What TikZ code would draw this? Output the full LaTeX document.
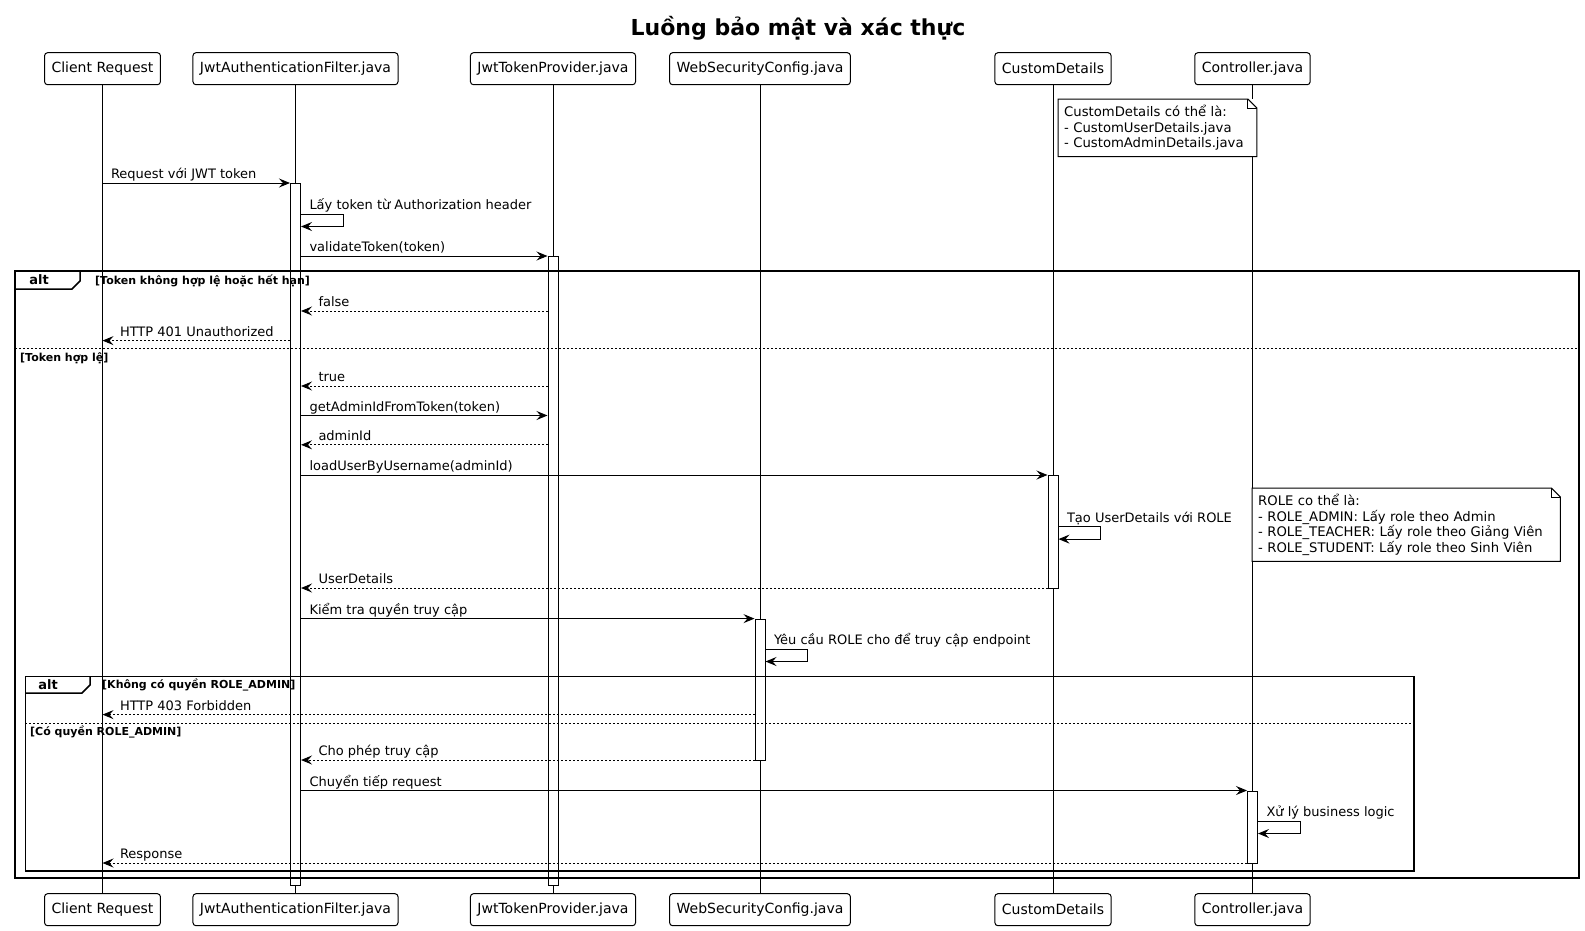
\documentclass[tikz,border=0pt]{standalone}
\usepackage{fontspec}
\setmainfont{DejaVu Sans}
\usetikzlibrary{arrows.meta}

\begin{document}
\begin{tikzpicture}[
x=1pt, y=-1pt,
actor/.style={draw, rounded corners=3pt, line width=1pt, fill=white, minimum height=32pt, inner xsep=7pt, font=\fontsize{14}{16}\selectfont},
life/.style={line width=1pt},
actbar/.style={draw, fill=white, line width=1pt, minimum width=10pt, inner sep=0pt, anchor=north},
msg/.style={line width=1pt, -{Stealth[length=11pt,width=9pt,inset=4pt]}},
reply/.style={msg, dash pattern=on 2pt off 2pt},
lbl/.style={font=\fontsize{13}{15}\selectfont, inner sep=0pt, anchor=base west},
lblS/.style={lbl, pos=0, xshift=8pt, yshift=4.5pt},
lblE/.style={lbl, pos=1, xshift=17pt, yshift=4.5pt},
grpframe/.style={line width=1.5pt},
grpsep/.style={line width=1pt, dash pattern=on 2pt off 2pt},
altlbl/.style={font=\bfseries\fontsize{13}{15}\selectfont, inner sep=0pt},
guard/.style={font=\bfseries\fontsize{11}{13}\selectfont, inner sep=0pt, anchor=west},
notebox/.style={fill=white, font=\fontsize{13.2}{15.5}\selectfont, align=left, anchor=north west, inner sep=6pt},
notefold/.style={line width=1pt}
]
\useasboundingbox (0,0) rectangle (1585,930);
\node[font=\bfseries\fontsize{22}{26}\selectfont] (title) at (798,28.3) {Luồng bảo mật và xác thực};

\foreach \nm/\x/\txt in {client/102.5/Client Request, filter/295.5/JwtAuthenticationFilter.java,
    provider/553/JwtTokenProvider.java, config/760/WebSecurityConfig.java,
    details/1053/CustomDetails, ctrl/1252.5/Controller.java} {
  \node[actor] (\nm) at (\x,68.7) {\txt};
  \node[actor] (\nm-b) at (\x,909.7) {\txt};
  \draw[life] (\nm.south) -- (\nm-b.north);
}

\node[actbar, minimum height=701.5pt] (aFilter) at (filter |- 0,183) {};
\node[actbar, minimum height=628.5pt] (aProv) at (provider |- 0,256) {};
\node[actbar, minimum height=112.5pt] (aDet) at (details |- 0,475) {};
\node[actbar, minimum height=141pt] (aConf) at (config |- 0,618.6) {};
\node[actbar, minimum height=72.5pt] (aCtrl) at (ctrl |- 0,790.5) {};

% alt: token
\draw[grpframe] (15.2,271) rectangle (1579,878);
\draw[grpframe] (15.2,289) -- (72,289) -- (80,281) -- (80,271);
\node[altlbl] (alt1) at (39,280) {alt};
\node[guard] (g1) at (95,281) {[Token không hợp lệ hoặc hết hạn]};
\draw[grpsep] (15.2,348.7) -- (1579,348.7);
\node[guard] (g2) at (20,357.8) {[Token hợp lệ]};

% alt: role
\draw[grpframe] (25.3,676.7) rectangle (1414,871);
\draw[grpframe] (25.3,693) -- (82,693) -- (90,685) -- (90,676.7);
\node[altlbl] (alt2) at (48,685) {alt};
\node[guard] (g3) at (102,685) {[Không có quyền ROLE\_ADMIN]};
\draw[grpsep] (25.3,723) -- (1414,723);
\node[guard] (g4) at (30,732) {[Có quyền ROLE\_ADMIN]};

\draw[msg] (client |- 0,183) -- node[lblS] {Request với JWT token} (aFilter.west |- 0,183);
\draw[msg] (aFilter.east |- 0,214) -- node[lblS] {Lấy token từ Authorization header} ++(42,0) -- ++(0,12.5) -- (aFilter.east |- 0,226.5);
\draw[msg] (aFilter.east |- 0,256) -- node[lblS] {validateToken(token)} (aProv.west |- 0,256);
\draw[reply] (aProv.west |- 0,311) -- node[lblE] {false} (aFilter.east |- 0,311);
\draw[reply] (aFilter.west |- 0,340.6) -- node[lblE] {HTTP 401 Unauthorized} (client |- 0,340.6);
\draw[reply] (aProv.west |- 0,386) -- node[lblE] {true} (aFilter.east |- 0,386);
\draw[msg] (aFilter.east |- 0,415.5) -- node[lblS] {getAdminIdFromToken(token)} (aProv.west |- 0,415.5);
\draw[reply] (aProv.west |- 0,444.8) -- node[lblE] {adminId} (aFilter.east |- 0,444.8);
\draw[msg] (aFilter.east |- 0,475) -- node[lblS] {loadUserByUsername(adminId)} (aDet.west |- 0,475);
\draw[msg] (aDet.east |- 0,526.6) -- node[lblS] {Tạo UserDetails với ROLE} ++(42,0) -- ++(0,12.5) -- (aDet.east |- 0,539.1);
\draw[reply] (aDet.west |- 0,588) -- node[lblE] {UserDetails} (aFilter.east |- 0,588);
\draw[msg] (aFilter.east |- 0,618.6) -- node[lblS] {Kiểm tra quyền truy cập} (aConf.west |- 0,618.6);
\draw[msg] (aConf.east |- 0,649) -- node[lblS] {Yêu cầu ROLE cho để truy cập endpoint} ++(42,0) -- ++(0,12.5) -- (aConf.east |- 0,661.5);
\draw[reply] (aConf.west |- 0,714.6) -- node[lblE] {HTTP 403 Forbidden} (client |- 0,714.6);
\draw[reply] (aConf.west |- 0,760) -- node[lblE] {Cho phép truy cập} (aFilter.east |- 0,760);
\draw[msg] (aFilter.east |- 0,790.5) -- node[lblS] {Chuyển tiếp request} (aCtrl.west |- 0,790.5);
\draw[msg] (aCtrl.east |- 0,821) -- node[lblS] {Xử lý business logic} ++(42,0) -- ++(0,12.5) -- (aCtrl.east |- 0,833.5);
\draw[reply] (aCtrl.west |- 0,863) -- node[lblE] {Response} (client |- 0,863);

% notes
\node[notebox, text width=186.5pt, minimum height=56.7pt] (note1) at (1058,99)
  {CustomDetails có thể là:\\- CustomUserDetails.java\\- CustomAdminDetails.java};
\node[notebox, text width=296pt, minimum height=73pt] (note2) at (1252,488)
  {ROLE co thể là:\\- ROLE\_ADMIN: Lấy role theo Admin\\- ROLE\_TEACHER: Lấy role theo Giảng Viên\\- ROLE\_STUDENT: Lấy role theo Sinh Viên};
\foreach \n in {note1, note2} {
  \draw[notefold] (\n.south west) -- (\n.north west) -- ([xshift=-9pt]\n.north east) -- ([yshift=-9pt]\n.north east) -- (\n.south east) -- cycle;
  \draw[notefold] ([xshift=-9pt]\n.north east) |- ([yshift=-9pt]\n.north east);
}
\end{tikzpicture}
\end{document}
